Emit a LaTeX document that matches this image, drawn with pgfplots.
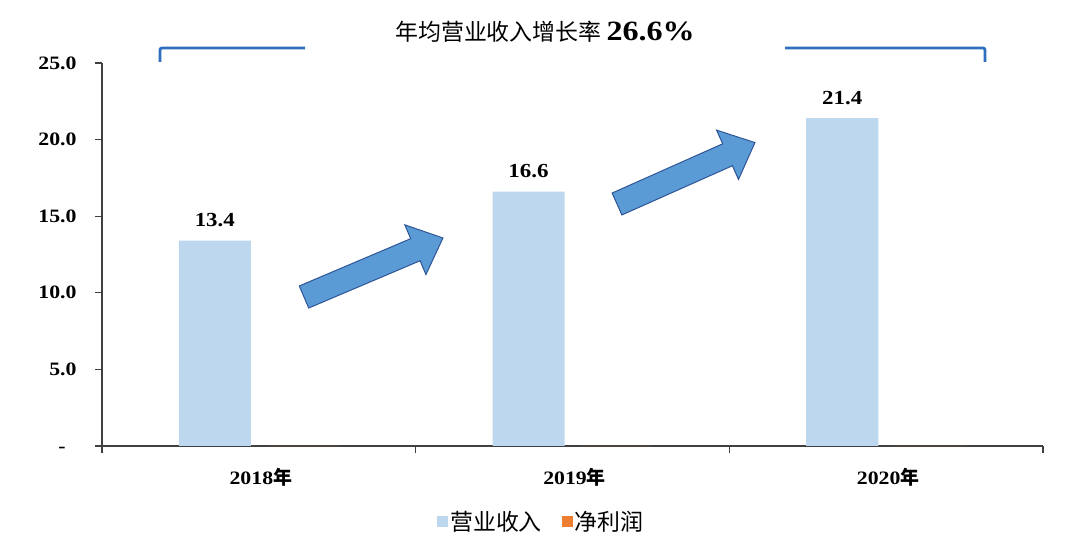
\documentclass[border=0pt]{standalone}
\usepackage{fontspec}
\setmainfont{Liberation Serif}[FakeStretch=1.15]
\newfontfamily\cjk{Noto Sans CJK SC}
\usepackage{pgfplots}
\pgfplotsset{compat=1.18}
\definecolor{barblue}{HTML}{BDD7EE}
\definecolor{netorange}{HTML}{ED7D31}
\definecolor{arrowfill}{HTML}{5B9BD5}
\definecolor{arrowedge}{HTML}{2F5597}
\definecolor{bracket}{HTML}{2E6FC0}
\definecolor{axisgray}{HTML}{404040}

\begin{document}
\begin{tikzpicture}[x=1bp,y=1bp]
\begin{axis}[
    at={(0,0)}, anchor=south west,
    scale only axis,
    width=941bp, height=383bp,
    axis lines*=left,
    axis line style={axisgray, line width=1.2bp},
    xmin=-0.5, xmax=2.5,
    ymin=0, ymax=25,
    ytick={0,5,10,15,20,25},
    yticklabels={-\phantom{0},5.0,10.0,15.0,20.0,25.0},
    xtick={0,1,2},
    xticklabels={2018{\cjk 年},2019{\cjk 年},2020{\cjk 年}},
    minor xtick={-0.5,0.5,1.5,2.5},
    tick align=outside,
    major tick length=7bp,
    minor tick length=7bp,
    tick style={axisgray, line width=1.2bp},
    major x tick style={draw=none},
    ticklabel style={font=\bfseries\fontsize{19}{19}\selectfont},
    yticklabel style={xshift=-15bp},
    xticklabel style={yshift=-12bp, xshift=2bp},
    /pgf/number format/assume math mode=true,
    legend style={at={(0.467,-0.198)}, anchor=center, draw=none, fill=none,
        legend columns=2, font=\cjk\fontsize{23}{23}\selectfont,
        /tikz/every even column/.append style={column sep=18bp}},
    legend image code/.code={\fill[#1] (0bp,-5.5bp) rectangle (11bp,5.5bp);},
]
\addplot[ybar, bar width=0.23, bar shift=-0.14, fill=barblue, draw=none,
    nodes near coords,
    nodes near coords style={font=\bfseries\fontsize{20}{20}\selectfont, text=black,
        yshift=10bp, xshift=-44bp},
    /pgf/number format/.cd, fixed, fixed zerofill, precision=1]
    coordinates {(0,13.4) (1,16.6) (2,21.4)};
\addlegendentry{营业收入}
\addplot[ybar, bar width=0.23, bar shift=0.14, fill=netorange, draw=none]
    coordinates {(0,0) (1,0) (2,0)};
\addlegendentry{净利润}
\end{axis}
% growth arrows
\begin{scope}[shift={(202,149)}, rotate=23]
  \filldraw[fill=arrowfill, draw=arrowedge, line width=1bp, line join=miter]
    (0,-12) -- (121,-12) -- (121,-27) -- (151,0) -- (121,27) -- (121,12) -- (0,12) -- cycle;
\end{scope}
\begin{scope}[shift={(515,242)}, rotate=24]
  \filldraw[fill=arrowfill, draw=arrowedge, line width=1bp, line join=miter]
    (0,-12) -- (121,-12) -- (121,-27) -- (151,0) -- (121,27) -- (121,12) -- (0,12) -- cycle;
\end{scope}
% title and bracket
\draw[bracket, line width=2.8bp, rounded corners=2bp] (58,384) -- (58,398) -- (203,398);
\draw[bracket, line width=2.8bp, rounded corners=2bp] (683,398) -- (883,398) -- (883,384);
\node at (443,414) {{\cjk\fontsize{23}{23}\selectfont 年均营业收入增长率}\hspace{5bp}\bfseries\fontsize{28}{28}\selectfont 26.6\%};
\pgfresetboundingbox
\useasboundingbox (-102,-114) rectangle (972,446);
\end{tikzpicture}
\end{document}
